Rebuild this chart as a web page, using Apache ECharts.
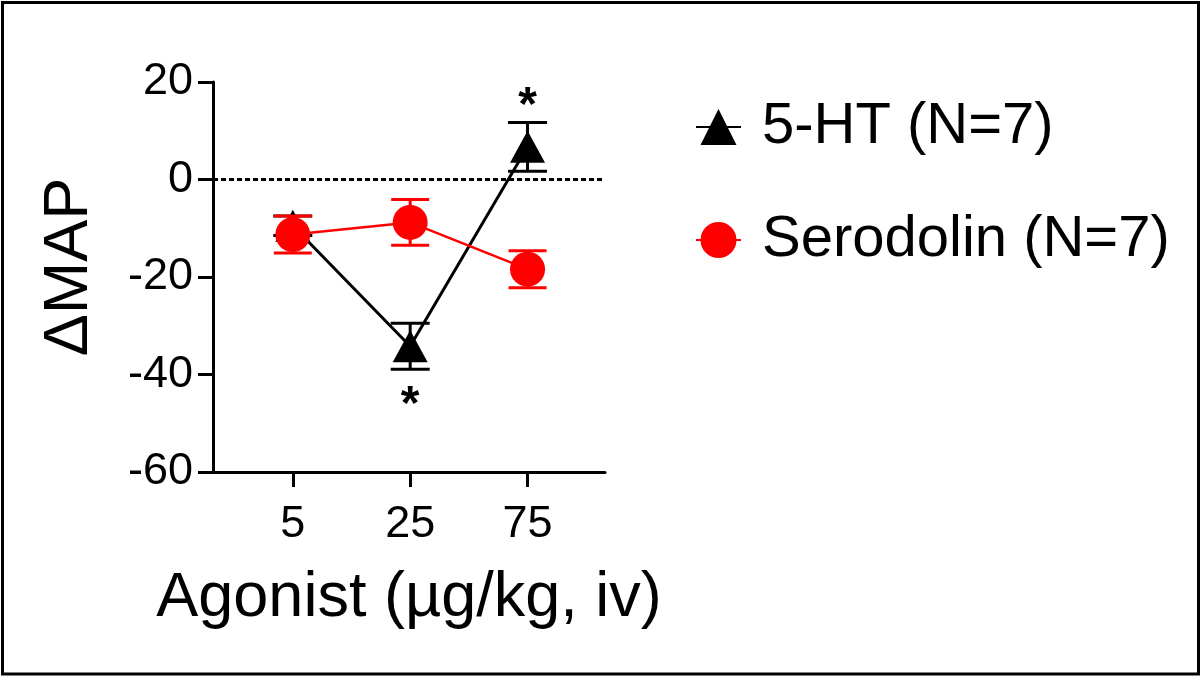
<!DOCTYPE html>
<html>
<head>
<meta charset="utf-8">
<script src="https://cdn.jsdelivr.net/npm/echarts@6/dist/echarts.min.js"></script>
<style>
html,body{margin:0;padding:0;background:#fff;}
#main{width:1200px;height:676px;}
</style>
</head>
<body>
<div id="main"></div>
<script>
// ---- data ----
const doseLabels = ['5', '25', '75'];
const doseIndex = [1, 2, 3];
const htName = '5-HT (N=7)';
const htMean = [-9.5, -34.2, 6.7];
const htSem = [2, 4.7, 5.0];
const seroName = 'Serodolin (N=7)';
const seroMean = [-11.3, -8.8, -18.4];
const seroSem = [3.8, 4.7, 3.8];
const yTicks = [-60, -40, -20, 0, 20];
const starX = [3, 2];
const starY = [15, -46.5];
const xTitle = 'Agonist (\u00b5g/kg, iv)';
const yTitle = '\u0394MAP';

const FONT = '"Liberation Sans", Arial, sans-serif';

function pts(mean) { return doseIndex.map((x, i) => [x, mean[i]]); }
function errData(mean, sem) { return doseIndex.map((x, i) => [x, mean[i] - sem[i], mean[i] + sem[i]]); }

function errRender(color, capW, lw) {
  return function (params, api) {
    const x = api.value(0);
    const lo = api.coord([x, api.value(1)]);
    const hi = api.coord([x, api.value(2)]);
    const st = { stroke: color, lineWidth: lw };
    return {
      type: 'group',
      children: [
        { type: 'line', shape: { x1: lo[0], y1: lo[1], x2: hi[0], y2: hi[1] }, style: st },
        { type: 'line', shape: { x1: lo[0] - capW / 2, y1: lo[1], x2: lo[0] + capW / 2, y2: lo[1] }, style: st },
        { type: 'line', shape: { x1: hi[0] - capW / 2, y1: hi[1], x2: hi[0] + capW / 2, y2: hi[1] }, style: st }
      ]
    };
  };
}

const chart = echarts.init(document.getElementById('main'));
chart.setOption({
  animation: false,
  backgroundColor: '#fff',
  textStyle: { fontFamily: FONT },
  grid: { left: 213, right: 595, top: 82, bottom: 204 },
  xAxis: {
    type: 'value', min: 0.32, max: 3.66,
    splitLine: { show: false },
    axisLine: { show: true, onZero: false, lineStyle: { color: '#000', width: 3 } },
    axisTick: { show: true, customValues: doseIndex, length: 15, lineStyle: { color: '#000', width: 3 } },
    axisLabel: { customValues: doseIndex, margin: 30, color: '#000', fontSize: 45, fontFamily: FONT,
      formatter: v => doseLabels[doseIndex.indexOf(Math.round(v))] || '' },
    name: xTitle, nameLocation: 'middle', nameGap: 95,
    nameTextStyle: { color: '#000', fontSize: 63, fontFamily: FONT }
  },
  yAxis: {
    type: 'value', min: yTicks[0], max: yTicks[yTicks.length - 1], interval: 20,
    splitLine: { show: false },
    axisLine: { show: true, lineStyle: { color: '#000', width: 3 } },
    axisTick: { show: true, length: 15, lineStyle: { color: '#000', width: 3 } },
    axisLabel: { margin: 20, color: '#000', fontSize: 45, fontFamily: FONT },
    name: yTitle, nameLocation: 'middle', nameGap: 112,
    nameTextStyle: { color: '#000', fontSize: 63, fontFamily: FONT, padding: [0, 0, 0, 20] }
  },
  legend: {
    orient: 'vertical', left: 690, top: 93, itemGap: 55,
    itemWidth: 45, itemHeight: 45,
    data: [htName, seroName],
    textStyle: { color: '#000', fontSize: 58, fontFamily: FONT, lineHeight: 58, padding: [0, 0, 0, 16] }
  },
  graphic: [{
    type: 'rect', left: 0, top: 0, z: 100, silent: true,
    shape: { x: 1.5, y: 1.5, width: 1196, height: 671.5 },
    style: { fill: 'none', stroke: '#000', lineWidth: 3 }
  }],
  series: [
    {
      name: 'ht-err', type: 'custom', z: 2, silent: true,
      renderItem: errRender('#000', 39, 3),
      encode: { x: 0, y: [1, 2] },
      data: errData(htMean, htSem)
    },
    {
      name: htName, type: 'line', z: 3, data: pts(htMean),
      symbol: 'triangle', symbolSize: [35, 32],
      itemStyle: { color: '#000' },
      lineStyle: { color: '#000', width: 3 },
      markLine: {
        silent: true, symbol: 'none', label: { show: false },
        lineStyle: { color: '#000', width: 3, type: [5, 3], opacity: 1 },
        data: [{ yAxis: 0 }]
      }
    },
    {
      name: 'sero-err', type: 'custom', z: 4, silent: true,
      renderItem: errRender('#ff0000', 38, 3),
      encode: { x: 0, y: [1, 2] },
      data: errData(seroMean, seroSem)
    },
    {
      name: seroName, type: 'line', z: 5, data: pts(seroMean),
      symbol: 'circle', symbolSize: 35,
      itemStyle: { color: '#ff0000' },
      lineStyle: { color: '#ff0000', width: 2.5 }
    },
    {
      name: 'stars', type: 'scatter', z: 6, silent: true,
      symbolSize: 0,
      itemStyle: { color: '#000', opacity: 1 },
      data: starX.map((x, i) => [x, starY[i]]),
      label: { show: true, position: 'inside', formatter: '*', color: '#000', textBorderWidth: 0, opacity: 1,
        fontSize: 48, fontWeight: 'bold', fontFamily: FONT }
    }
  ]
});
</script>
</body>
</html>
